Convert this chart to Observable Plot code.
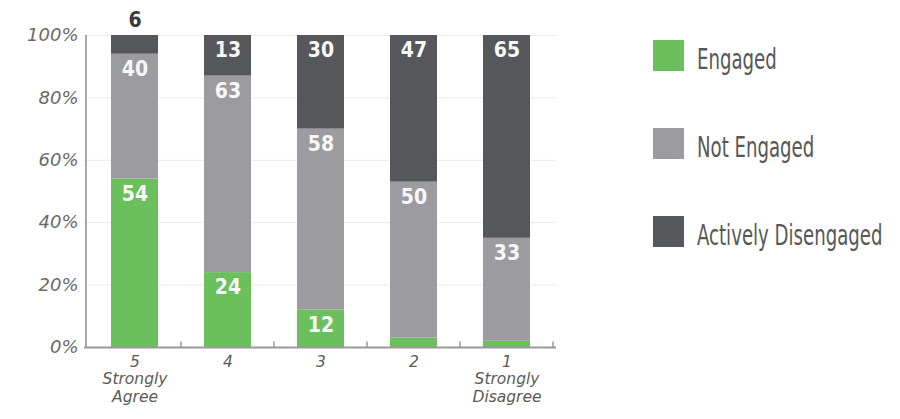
<!DOCTYPE html>
<html>
<head>
<meta charset="utf-8">
<script src="https://cdn.jsdelivr.net/npm/d3@7"></script>
<script src="https://cdn.jsdelivr.net/npm/@observablehq/plot@0.6"></script>
<style>
  html, body { margin: 0; padding: 0; background: #fff; }
  #wrap { position: relative; width: 900px; height: 419px; overflow: hidden; }
  #chart { position: absolute; left: 0; top: 0; }
  #legend { position: absolute; left: 653px; top: 40px; }
  .item { display: flex; align-items: center; height: 31px; margin-bottom: 57px; }
  .swatch { width: 31px; height: 31px; flex: none; }
  .name {
    margin-left: 13px;
    font-family: "DejaVu Sans Condensed", "DejaVu Sans", sans-serif;
    font-size: 29px; color: #585858;
    transform: scaleX(0.695); transform-origin: left center;
    white-space: nowrap; position: relative; top: 3px;
  }
</style>
</head>
<body>
<div id="wrap">
  <div id="chart"></div>
  <div id="legend"></div>
</div>
<script>
// Agreement level, from 5 (strongly agree) down to 1 (strongly disagree)
const levels = ["5", "4", "3", "2", "1"];
const levelLabels = ["5\nStrongly\nAgree", "4", "3", "2", "1\nStrongly\nDisagree"];

// Engagement groups, bottom to top of each bar
const statuses = ["Engaged", "Not Engaged", "Actively Disengaged"];
const statusColors = ["#6bbf5c", "#9c9ca0", "#56575a"];

// Percent of respondents in each group, per agreement level
const engaged = [54, 24, 12, 3, 2];
const notEngaged = [40, 63, 58, 50, 33];
const activelyDisengaged = [6, 13, 30, 47, 65];

const yTicks = [0, 20, 40, 60, 80, 100];

const series = [engaged, notEngaged, activelyDisengaged];
const rows = levels.flatMap((level, i) =>
  statuses.map((status, s) => ({level, status, value: series[s][i]}))
);
const labelOf = new Map(levels.map((l, i) => [l, levelLabels[i]]));
const topStatus = statuses[statuses.length - 1];
const labelFont = "'DejaVu Sans Condensed', 'DejaVu Sans', sans-serif";

const chart = Plot.plot({
  width: 620,
  height: 419,
  marginLeft: 84,
  marginRight: 64,
  marginTop: 35,
  marginBottom: 72,
  style: {fontFamily: "'DejaVu Sans', sans-serif", color: "#5a5a5a", background: "#fff"},
  x: {domain: levels, paddingInner: 0.5, paddingOuter: 0.27, axis: null},
  y: {domain: [0, 100], axis: null},
  color: {domain: statuses, range: statusColors},
  marks: [
    Plot.ruleY(yTicks.filter(t => t > 0), {stroke: "#ececec", strokeWidth: 1}),
    Plot.barY(rows, {x: "level", y: "value", fill: "status", z: "status"}),
    // values printed inside the top of each sizeable segment
    Plot.text(rows, Plot.stackY2({
      x: "level", y: "value", z: "status",
      text: d => d.value >= 10 ? String(d.value) : null,
      dy: 15, fill: "#f7f7f7",
      fontFamily: labelFont, fontWeight: "bold", fontSize: 21
    })),
    // a small top segment gets its value above the bar
    Plot.text(rows, Plot.stackY2({
      x: "level", y: "value", z: "status",
      text: d => d.status === topStatus && d.value < 10 ? String(d.value) : null,
      dy: -15, fill: "#3a3a3a",
      fontFamily: labelFont, fontWeight: "bold", fontSize: 21
    })),
    // vertical axis line at the left edge of the first band
    Plot.ruleX([levels[0]], {dx: -49, y1: 0, y2: 100, stroke: "#a0a0a0", strokeWidth: 1.8}),
    Plot.ruleY([0], {stroke: "#9a9a9a", strokeWidth: 2}),
    // small ticks on the baseline between bars
    Plot.ruleX(levels, {x: d => d, dx: 46, y1: 0, y2: 1.8, stroke: "#9a9a9a", strokeWidth: 1.5}),
    Plot.axisY({
      ticks: yTicks, tickSize: 0, tickPadding: 6, label: null,
      tickFormat: d => d + "%", fontStyle: "italic", fontSize: 18, fill: "#6a6a6a"
    }),
    Plot.axisX({
      tickSize: 0, tickPadding: 7, label: null,
      tickFormat: d => labelOf.get(d), fontStyle: "italic", fontSize: 15.5,
      lineHeight: 1.12, fill: "#5a5a5a"
    })
  ]
});
document.getElementById("chart").append(chart);

// legend
const legend = document.getElementById("legend");
statuses.forEach((s, i) => {
  const item = document.createElement("div");
  item.className = "item";
  const sw = document.createElement("div");
  sw.className = "swatch";
  sw.style.background = statusColors[i];
  const name = document.createElement("div");
  name.className = "name";
  name.textContent = s;
  item.append(sw, name);
  legend.append(item);
});
</script>
</body>
</html>
